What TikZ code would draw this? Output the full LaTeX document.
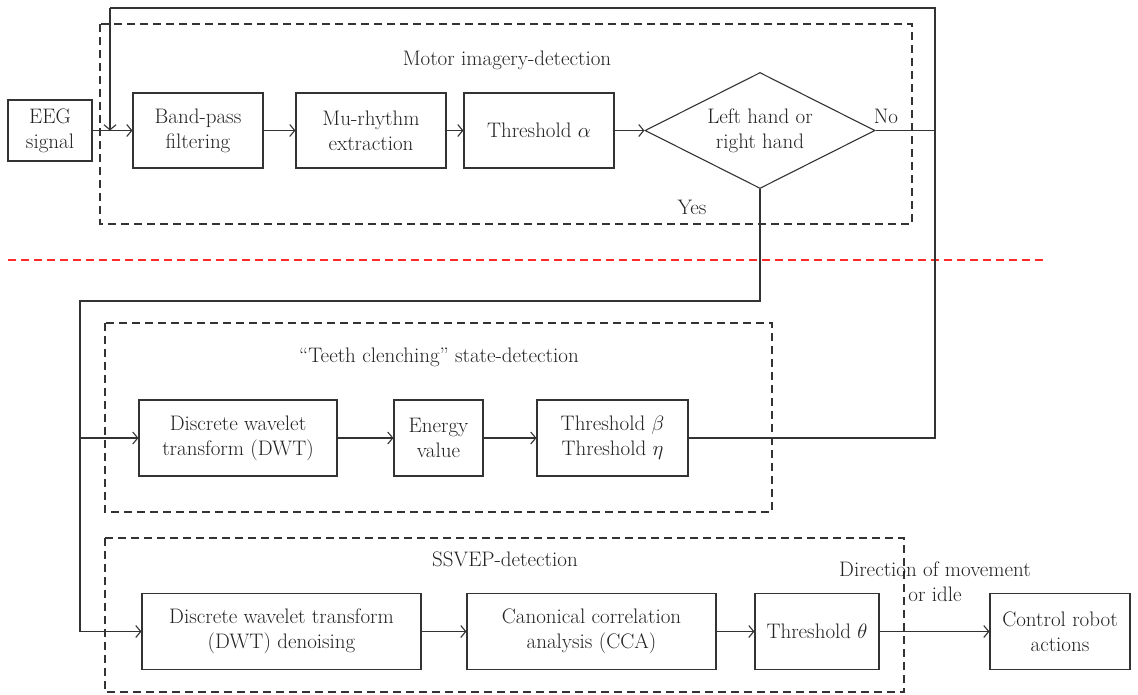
\documentclass[tikz,border=0pt]{standalone}
\usetikzlibrary{shapes.geometric,arrows.meta}
\definecolor{ln}{HTML}{333333}
\definecolor{tx}{HTML}{222222}
\definecolor{rd}{HTML}{FF2A2A}
\begin{document}
\begin{tikzpicture}[x=1pt,y=-1pt,
  every node/.style={font=\fontsize{21}{25}\selectfont, text=tx},
  box/.style={draw=ln, line width=1.1pt, rectangle, inner sep=0pt, align=center, minimum height=76pt},
  grp/.style={draw=ln, line width=1.1pt, dash pattern=on 8pt off 5pt},
  wire/.style={draw=ln, line width=1.1pt},
  arr/.style={wire, -{Straight Barb[length=5pt,width=12pt,line width=1.1pt]}},
  lbl/.style={inner sep=0pt, align=center}]
\useasboundingbox (0,0) rectangle (1138,694);

% group boxes
\draw[grp] (100,24) rectangle (912,224);
\draw[grp] (105,323) rectangle (772,512);
\draw[grp] (105,538) rectangle (904,692);
\node[lbl] (tmotor) at (507,60) {Motor imagery-detection};
\node[lbl] (tteeth) at (439,357) {``Teeth clenching'' state-detection};
\node[lbl] (tssvep) at (505,559) {SSVEP-detection};

% red separator
\draw[rd, line width=1.1pt, dash pattern=on 8pt off 5pt] (8,260) -- (1043,260);

% top row
\node[box, minimum width=84pt, minimum height=61pt] (eeg) at (50,130.5) {EEG\\signal};
\node[box, minimum width=130pt, minimum height=75pt] (bp) at (198,130.5) {Band-pass\\filtering};
\node[box, minimum width=150pt, minimum height=75pt] (mu) at (371,130.5) {Mu-rhythm\\extraction};
\node[box, minimum width=150pt, minimum height=75pt] (ta) at (539,130.5) {Threshold $\alpha$};
\node[draw=ln, line width=1.1pt, diamond, shape aspect=2, inner sep=0pt, align=center,
      minimum width=230pt, minimum height=116pt] (dia) at (760,130.5) {Left hand or\\right hand};
\node[lbl] (no) at (886,116) {No};
\node[lbl] (yes) at (692,207) {Yes};

% middle row
\node[box, minimum width=198pt] (dwt) at (238,438) {Discrete wavelet\\transform (DWT)};
\node[box, minimum width=89pt] (en) at (438.5,438) {Energy\\value};
\node[box, minimum width=151pt] (tb) at (612.5,438) {Threshold $\beta$\\Threshold $\eta$};

% bottom row
\node[box, minimum width=279pt] (dwtd) at (281.5,631.5) {Discrete wavelet transform\\(DWT) denoising};
\node[box, minimum width=249pt] (cca) at (591.5,631.5) {Canonical correlation\\analysis (CCA)};
\node[box, minimum width=124pt] (tt) at (817,631.5) {Threshold $\theta$};
\node[box, minimum width=140pt] (robot) at (1060,631.5) {Control robot\\actions};
\node[lbl] (dir) at (935,582) {Direction of movement\\or idle};

% coordinates
\coordinate (merge) at (110,130.5);
\coordinate (rtop) at (935,8);
\coordinate (ltop) at (110,8);
\coordinate (rno) at (935,130.5);
\coordinate (rb) at (935,438);
\coordinate (lturn) at (80,301);
\coordinate (lmid) at (80,438);
\coordinate (lbot) at (80,631.5);

% connectors top
\draw[arr] (eeg.east) -- (bp.west);
\draw[arr] (bp.east) -- (mu.west);
\draw[arr] (mu.east) -- (ta.west);
\draw[arr] (ta.east) -- (dia.west);
\draw[wire] (dia.east) -- (rno);
\draw[wire] (tb.east) -- (rb) -- (rtop) -- (ltop);
\draw[arr] (ltop) -- (merge);

% yes path
\draw[wire] (dia.south) -- (dia.south |- lturn) -- (lturn) -- (lmid);
\draw[arr] (lmid) -- (dwt.west);
\draw[arr] (lmid) -- (lbot) -- (dwtd.west);

% middle & bottom connectors
\draw[arr] (dwt.east) -- (en.west);
\draw[arr] (en.east) -- (tb.west);
\draw[arr] (dwtd.east) -- (cca.west);
\draw[arr] (cca.east) -- (tt.west);
\draw[arr] (tt.east) -- (robot.west);
\end{tikzpicture}
\end{document}
